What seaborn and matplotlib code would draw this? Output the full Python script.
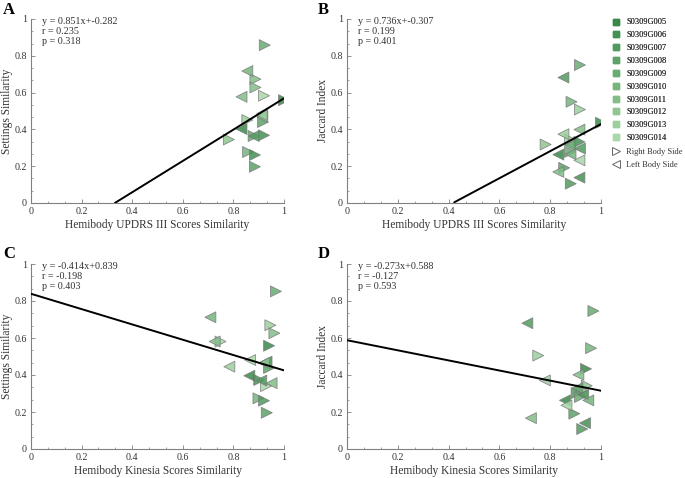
import numpy as np
import pandas as pd
import matplotlib
matplotlib.use("Agg")
import matplotlib.pyplot as plt
from matplotlib.lines import Line2D
from matplotlib.ticker import MultipleLocator, FuncFormatter, AutoMinorLocator
import seaborn as sns

subjects = ["S0309G005", "S0309G006", "S0309G007", "S0309G008", "S0309G009",
            "S0309G010", "S0309G011", "S0309G012", "S0309G013", "S0309G014"]

# Panel A: UPDRS similarity vs settings similarity
a_x = [0.924, 0.855, 0.887, 0.887, 0.921, 0.832, 1.000, 0.914, 0.914, 0.855,
       0.917, 0.832, 0.880, 0.880, 0.921, 0.782, 0.858, 0.885, 0.885, 0.912]
a_y = [0.858, 0.717, 0.673, 0.628, 0.583, 0.577, 0.559, 0.486, 0.468, 0.451,
       0.440, 0.402, 0.364, 0.364, 0.368, 0.345, 0.277, 0.261, 0.197, 0.478]
a_side = ["R", "L", "R", "R", "R", "L", "R", "L", "L", "R",
          "R", "L", "L", "R", "R", "R", "R", "R", "R", "L"]
a_subj = [4, 5, 6, 6, 9, 6, 0, 9, 7, 8, 3, 0, 2, 4, 1, 7, 5, 1, 3, 8]

# Panel B: UPDRS similarity vs Jaccard index
b_x = [0.917, 0.852, 0.884, 0.917, 1.000, 0.915, 0.852, 0.782, 0.878, 0.878,
       0.915, 0.917, 0.878, 0.832, 0.880, 0.915, 0.855, 0.832, 0.915, 0.881]
b_y = [0.750, 0.682, 0.550, 0.508, 0.436, 0.399, 0.374, 0.318, 0.345, 0.314,
       0.332, 0.296, 0.278, 0.263, 0.265, 0.232, 0.191, 0.169, 0.138, 0.105]
b_side = ["R", "L", "R", "R", "R", "L", "L", "R", "R", "L",
          "R", "L", "R", "L", "L", "L", "R", "L", "L", "R"]
b_subj = [4, 2, 5, 8, 0, 6, 8, 7, 9, 3, 1, 2, 4, 0, 5, 9, 3, 6, 1, 2]

# Panel C: Kinesia similarity vs settings similarity
c_x = [0.968, 0.709, 0.946, 0.962, 0.726, 0.749, 0.941, 0.784, 0.866, 0.931,
       0.941, 0.921, 0.863, 0.902, 0.929, 0.951, 0.899, 0.921, 0.932, 0.910]
c_y = [0.852, 0.712, 0.669, 0.626, 0.581, 0.581, 0.558, 0.445, 0.481, 0.472,
       0.438, 0.465, 0.396, 0.373, 0.340, 0.356, 0.274, 0.261, 0.196, 0.370]
c_side = ["R", "L", "R", "R", "L", "R", "R", "L", "L", "L",
          "R", "L", "L", "R", "R", "L", "R", "R", "R", "L"]
c_subj = [4, 5, 8, 6, 6, 9, 0, 8, 9, 1, 3, 7, 0, 1, 9, 6, 5, 2, 3, 2]

# Panel D: Kinesia similarity vs Jaccard index
d_x = [0.970, 0.710, 0.961, 0.753, 0.941, 0.911, 0.779, 0.944, 0.907, 0.924,
       0.904, 0.930, 0.917, 0.950, 0.858, 0.864, 0.895, 0.724, 0.937, 0.926]
d_y = [0.746, 0.680, 0.545, 0.505, 0.433, 0.401, 0.371, 0.342, 0.329, 0.317,
       0.302, 0.293, 0.281, 0.263, 0.263, 0.236, 0.191, 0.167, 0.140, 0.108]
d_side = ["R", "L", "R", "R", "R", "L", "L", "R", "L", "R",
          "R", "L", "R", "L", "L", "L", "R", "L", "L", "R"]
d_subj = [4, 2, 5, 8, 0, 6, 8, 7, 3, 9, 2, 1, 4, 5, 0, 9, 3, 6, 1, 2]

fits = {
    "A": (0.851, -0.282, "0.235", "0.318"),
    "B": (0.736, -0.307, "0.199", "0.401"),
    "C": (-0.414, 0.839, "-0.198", "0.403"),
    "D": (-0.273, 0.588, "-0.127", "0.593"),
}

x_labels = {"A": "Hemibody UPDRS III Scores Similarity",
            "B": "Hemibody UPDRS III Scores Similarity",
            "C": "Hemibody Kinesia Scores Similarity",
            "D": "Hemibody Kinesia Scores Similarity"}
y_labels = {"A": "Settings Similarity", "B": "Jaccard Index",
            "C": "Settings Similarity", "D": "Jaccard Index"}

sns.set_theme(style="white")
plt.rcParams["font.family"] = ["Liberation Serif", "DejaVu Serif"]

palette = sns.blend_palette(["#38884a", "#a8d8a8"], len(subjects))
pal = {s: palette[i] for i, s in enumerate(subjects)}

W, H = 685, 478
fig = plt.figure(figsize=(W / 100, H / 100), dpi=100)

def rect(l, r, t, b):
    return [l / W, 1 - b / H, (r - l) / W, (b - t) / H]

axes = {
    "A": fig.add_axes(rect(31, 284, 19, 203)),
    "B": fig.add_axes(rect(347, 601, 19, 203)),
    "C": fig.add_axes(rect(31, 284, 264, 449)),
    "D": fig.add_axes(rect(347, 601, 264, 449)),
}

data = {
    "A": (a_x, a_y, a_side, a_subj),
    "B": (b_x, b_y, b_side, b_subj),
    "C": (c_x, c_y, c_side, c_subj),
    "D": (d_x, d_y, d_side, d_subj),
}

grey = "#808080"
txt = "#333333"
fmt = FuncFormatter(lambda v, p: f"{v:g}")

for key, ax in axes.items():
    xs, ys, sides, subj = data[key]
    df = pd.DataFrame({"x": xs, "y": ys, "side": sides,
                       "subject": [subjects[i] for i in subj]})
    for side, mk in (("R", ">"), ("L", "<")):
        sub = df[df["side"] == side]
        sns.scatterplot(data=sub, x="x", y="y", hue="subject", palette=pal,
                        marker=mk, s=62, edgecolor="#7a7a7a", linewidth=0.6,
                        alpha=0.85, legend=False, ax=ax, zorder=3)
    m, b, r, p = fits[key]
    lx = np.linspace(0, 1, 200)
    ly = m * lx + b
    ok = ly >= 0
    sns.lineplot(x=lx[ok], y=ly[ok], color="black", linewidth=1.4, ax=ax,
                 zorder=4)
    sign = "+" if b >= 0 else "+-"
    ax.text(0.045, 1.01, f"y = {m:.3f}x{sign}{abs(b):.3f}\nr = {r}\np = {p}",
            transform=ax.transAxes, ha="left", va="top", fontsize=7.3,
            color=txt, linespacing=1.1)
    ax.set_xlim(0, 1)
    ax.set_ylim(0, 1)
    ax.xaxis.set_major_locator(MultipleLocator(0.2))
    ax.yaxis.set_major_locator(MultipleLocator(0.2))
    ax.xaxis.set_minor_locator(AutoMinorLocator(3))
    ax.yaxis.set_minor_locator(AutoMinorLocator(3))
    ax.xaxis.set_major_formatter(fmt)
    ax.yaxis.set_major_formatter(fmt)
    ax.tick_params(which="major", direction="in", length=3, width=0.6,
                   colors=grey, labelcolor=txt, labelsize=7.2, pad=3,
                   bottom=True, left=True)
    ax.tick_params(which="minor", direction="in", length=1.5, width=0.5,
                   colors=grey, bottom=True, left=True)
    for sp in ("top", "right"):
        ax.spines[sp].set_visible(False)
    for sp in ("left", "bottom"):
        ax.spines[sp].set_color(grey)
        ax.spines[sp].set_linewidth(0.8)
    ax.set_xlabel(x_labels[key], fontsize=8.3, color=txt, labelpad=2)
    ax.set_ylabel(y_labels[key], fontsize=8.3, color=txt)
    ax.yaxis.set_label_coords(-0.07, 0.5)
    ax.set_facecolor("white")

# panel letters
for key, (x, y) in {"A": (3, 10), "B": (318, 10), "C": (3, 254), "D": (318, 254)}.items():
    fig.text(x / W, 1 - y / H, key, fontsize=12, fontweight="bold",
             ha="left", va="center", color="black")

handles = [Line2D([], [], marker="s", linestyle="", markersize=4.5,
                  markerfacecolor=pal[s], markeredgecolor=pal[s], label=s)
           for s in subjects]
side_handles = [
    Line2D([], [], marker=">", linestyle="", markersize=6,
           markerfacecolor="none", markeredgecolor="#666666",
           markeredgewidth=0.7, label="Right Body Side"),
    Line2D([], [], marker="<", linestyle="", markersize=6,
           markerfacecolor="none", markeredgecolor="#666666",
           markeredgewidth=0.7, label="Left Body Side"),
]
leg_kw = dict(loc="upper left", frameon=False, fontsize=6.0,
              handlelength=1.0, handletextpad=0.7, labelspacing=0.58,
              borderaxespad=0, borderpad=0)
leg1 = fig.legend(handles=handles, bbox_to_anchor=(612 / W, 1 - 18.5 / H),
                  **leg_kw)
leg2 = fig.legend(handles=side_handles,
                  bbox_to_anchor=(612 / W, 1 - 148 / H), **leg_kw)
fig.add_artist(leg1)
for lg in (leg1, leg2):
    for t in lg.get_texts():
        t.set_color(txt)

fig.savefig("out.png", dpi=100, facecolor="white")
